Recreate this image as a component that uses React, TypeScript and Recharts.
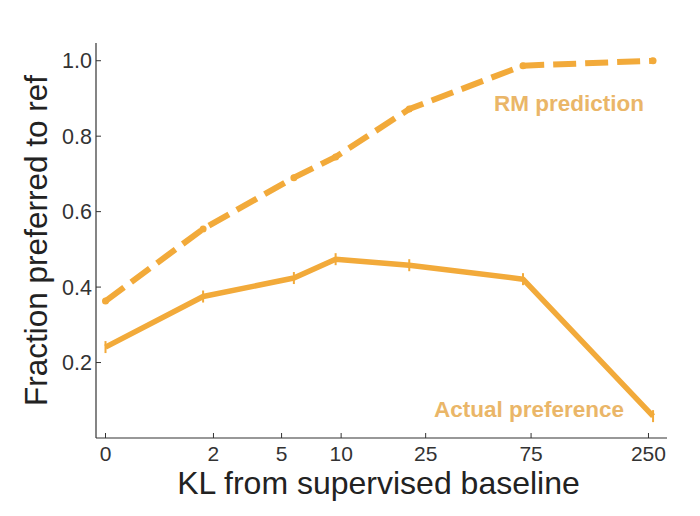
import React from 'react';
import { LineChart, Line, XAxis, YAxis, Label } from 'recharts';

// KL from supervised baseline (nats) for each policy
const klValues = [0, 1.7, 5.8, 9.4, 21, 69, 262];
// Reward model predicted fraction preferred to reference
const rmPrediction = [0.363, 0.554, 0.69, 0.745, 0.872, 0.987, 1.0];
// Actual human preference fraction
const actualPreference = [0.241, 0.375, 0.424, 0.474, 0.458, 0.421, 0.058];

const xTickLabels = [0, 2, 5, 10, 25, 75, 250];
const yTickValues = [0.2, 0.4, 0.6, 0.8, 1.0];

const ORANGE = '#F2AA3A';
const LABEL_ORANGE = '#EAB668';
const FONT = '"Liberation Sans", Arial, Helvetica, sans-serif';

const toAxis = (kl: number) => Math.log1p(kl);

const data = klValues.map((kl, i) => ({
  x: toAxis(kl),
  rm: rmPrediction[i],
  actual: actualPreference[i],
}));

const xTicks = xTickLabels.map(toAxis);

const formatX = (v: number) => {
  let best = xTickLabels[0];
  let bd = Infinity;
  for (const t of xTickLabels) {
    const d = Math.abs(toAxis(t) - v);
    if (d < bd) {
      bd = d;
      best = t;
    }
  }
  return String(best);
};

const ErrorTick = (props: any) => {
  const { cx, cy } = props;
  if (cx == null || cy == null) return null;
  return (
    <line
      key={`et-${cx}`}
      x1={cx}
      x2={cx}
      y1={cy - 6}
      y2={cy + 6}
      stroke={ORANGE}
      strokeWidth={2}
    />
  );
};

export default function App() {
  return (
    <div style={{ position: 'absolute', left: 0, top: 0, width: 700, height: 516, background: '#fff' }}>
      <LineChart
        width={700}
        height={516}
        data={data}
        margin={{ top: 43, right: 33, bottom: 8, left: 0 }}
      >
        <XAxis
          dataKey="x"
          type="number"
          domain={[-0.0967, 5.714]}
          ticks={xTicks}
          tickFormatter={formatX}
          height={70}
          tickSize={-5}
          tickMargin={13}
          interval={0}
          stroke="#333"
          axisLine={{ stroke: '#333', strokeWidth: 1.2 }}
          tickLine={{ stroke: '#333', strokeWidth: 1 }}
          tick={{ fontSize: 21, fill: '#333', fontFamily: FONT }}
        >
          <Label
            value="KL from supervised baseline"
            position="insideBottom"
            offset={14}
            dx={-3}
            style={{ fontSize: 32, fill: '#222', fontFamily: FONT }}
          />
        </XAxis>
        <YAxis
          type="number"
          domain={[0, 1.047]}
          ticks={yTickValues}
          tickFormatter={(v: number) => v.toFixed(1)}
          width={96}
          tickSize={-5}
          tickMargin={9}
          interval={0}
          stroke="#333"
          axisLine={{ stroke: '#333', strokeWidth: 1.2 }}
          tickLine={{ stroke: '#333', strokeWidth: 1 }}
          tick={{ fontSize: 21.5, fill: '#333', fontFamily: FONT }}
        >
          <Label
            value="Fraction preferred to ref"
            angle={-90}
            position="insideLeft"
            offset={36}
            style={{ fontSize: 31.5, fill: '#222', fontFamily: FONT, textAnchor: 'middle' }}
          />
        </YAxis>
        <Line
          dataKey="rm"
          stroke={ORANGE}
          strokeWidth={6}
          strokeDasharray="23 9"
          strokeLinejoin="round"
          dot={{ r: 3.5, fill: ORANGE, stroke: ORANGE, strokeWidth: 0 }}
          activeDot={false}
          isAnimationActive={false}
        />
        <Line
          dataKey="actual"
          stroke={ORANGE}
          strokeWidth={5.5}
          strokeLinejoin="round"
          dot={<ErrorTick />}
          activeDot={false}
          isAnimationActive={false}
        />
        <text
          x={644}
          y={111}
          textAnchor="end"
          fontSize={22.5}
          fontWeight="bold"
          fill={LABEL_ORANGE}
          fontFamily={FONT}
        >
          RM prediction
        </text>
        <text
          x={624}
          y={417}
          textAnchor="end"
          fontSize={22.5}
          fontWeight="bold"
          fill={LABEL_ORANGE}
          fontFamily={FONT}
        >
          Actual preference
        </text>
      </LineChart>
    </div>
  );
}
